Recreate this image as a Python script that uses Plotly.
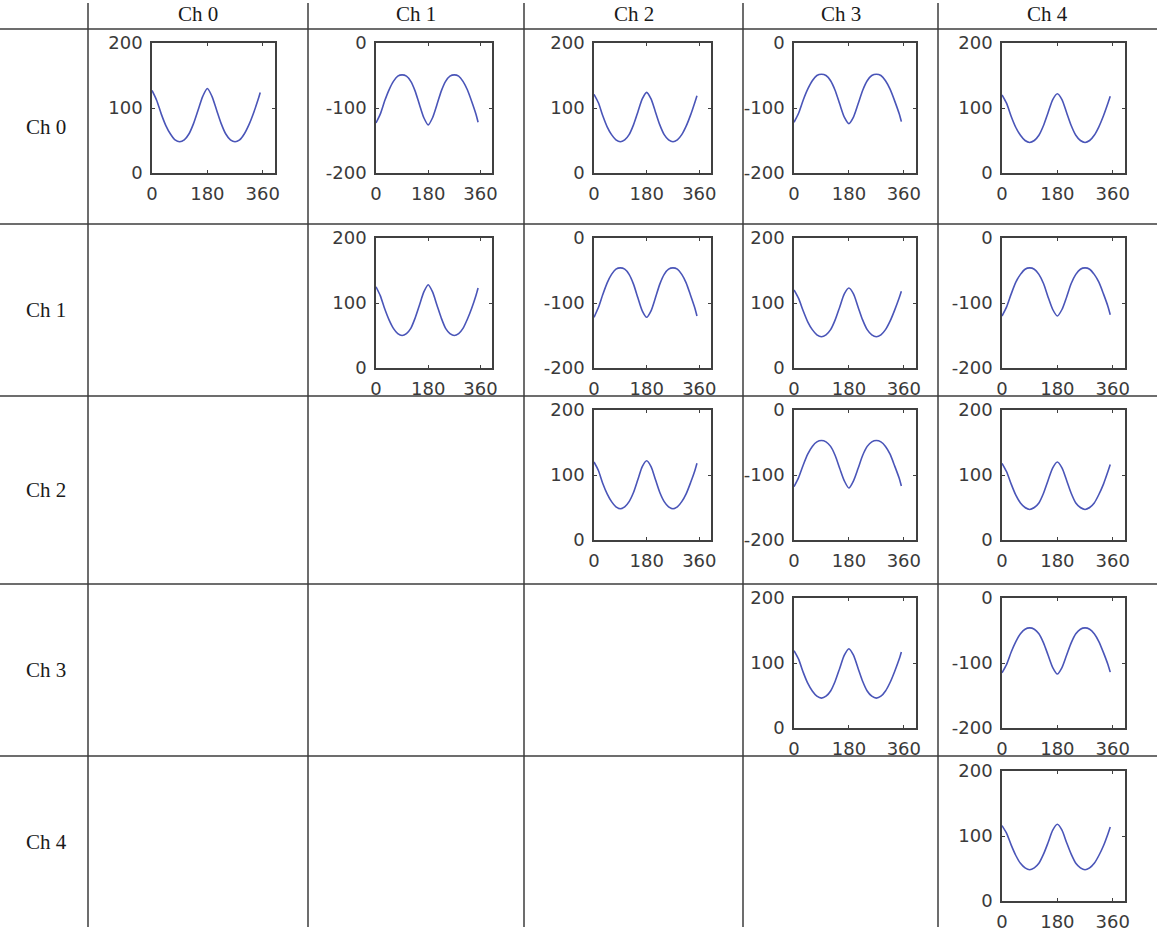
import plotly.graph_objects as go

# ---------------- data ----------------
channels = ["Ch 0", "Ch 1", "Ch 2", "Ch 3", "Ch 4"]
angles = [0, 15, 30, 45, 60, 75, 90, 105, 120, 135, 150, 165, 180,
          195, 210, 225, 240, 255, 270, 285, 300, 315, 330, 345, 352]
x_ticks = [0, 180, 360]
x_tick_labels = ["0", "180", "360"]
pos_ticks = [0, 100, 200]
pos_tick_labels = ["0", "100", "200"]
neg_ticks = [-200, -100, 0]
neg_tick_labels = ["-200", "-100", "0"]

c00 = [127, 112, 91, 73, 60, 51, 48, 51, 60, 76, 97, 118, 130, 118, 97, 76, 60, 51, 48, 51, 60, 74, 92, 113, 124]
c01 = [-123, -109, -89, -72, -59, -51, -49, -51, -59, -74, -95, -115, -126, -115, -95, -74, -59, -51, -49, -51, -59, -72, -90, -110, -122]
c02 = [121, 108, 88, 71, 59, 51, 48, 51, 59, 74, 94, 114, 124, 114, 94, 74, 59, 51, 48, 51, 59, 72, 89, 109, 119]
c03 = [-122, -108, -88, -71, -58, -50, -48, -50, -58, -73, -94, -114, -124, -114, -94, -73, -58, -50, -48, -50, -58, -71, -89, -109, -121]
c04 = [120, 107, 87, 70, 58, 50, 47, 50, 58, 73, 93, 113, 122, 113, 93, 73, 58, 50, 47, 50, 58, 71, 88, 108, 118]
c11 = [125, 111, 91, 74, 61, 53, 50, 53, 61, 77, 97, 117, 128, 117, 97, 77, 61, 53, 50, 53, 61, 75, 92, 112, 123]
c12 = [-122, -107, -87, -69, -56, -48, -46, -48, -56, -71, -92, -112, -122, -112, -92, -71, -56, -48, -46, -48, -56, -69, -88, -108, -120]
c13 = [120, 107, 88, 71, 59, 51, 48, 51, 59, 74, 94, 114, 123, 114, 94, 74, 59, 51, 48, 51, 59, 72, 89, 108, 118]
c14 = [-120, -106, -86, -68, -56, -48, -46, -48, -56, -70, -91, -110, -120, -110, -91, -70, -56, -48, -46, -48, -56, -68, -86, -106, -118]
c22 = [120, 107, 87, 71, 59, 51, 48, 51, 59, 73, 93, 113, 122, 113, 93, 73, 59, 51, 48, 51, 59, 71, 88, 107, 118]
c23 = [-118, -104, -85, -68, -56, -49, -47, -49, -56, -70, -90, -109, -120, -109, -90, -70, -56, -49, -47, -49, -56, -68, -86, -105, -117]
c24 = [118, 105, 86, 69, 57, 50, 47, 50, 57, 72, 92, 111, 120, 111, 92, 72, 57, 50, 47, 50, 57, 70, 86, 106, 116]
c33 = [119, 106, 86, 69, 57, 49, 46, 49, 57, 72, 92, 112, 122, 112, 92, 72, 57, 49, 46, 49, 57, 70, 87, 106, 117]
c34 = [-115, -102, -83, -67, -55, -48, -46, -48, -55, -69, -88, -107, -117, -107, -88, -69, -55, -48, -46, -48, -55, -67, -84, -103, -114]
c44 = [116, 104, 86, 70, 58, 51, 48, 51, 58, 72, 90, 109, 118, 109, 90, 72, 58, 51, 48, 51, 58, 70, 85, 104, 114]

cells = {
    (0, 0): c00, (0, 1): c01, (0, 2): c02, (0, 3): c03, (0, 4): c04,
    (1, 1): c11, (1, 2): c12, (1, 3): c13, (1, 4): c14,
    (2, 2): c22, (2, 3): c23, (2, 4): c24,
    (3, 3): c33, (3, 4): c34,
    (4, 4): c44,
}

# ---------------- layout geometry (pixels) ----------------
W, H = 1157, 933
col_lines = [88, 308, 524, 743, 938]
row_lines = [29, 224, 396, 584, 756]
col_left = [152, 376, 594, 794, 1002]
col_width = [123, 116, 117, 122, 123]
row_top = [43, 238, 410, 598, 771]
box_h = 130

def px(x):
    return x / W

def py(y):
    return 1 - y / H

fig = go.Figure()
layout = {}
axis_color = "#404040"
tick_font = dict(family="DejaVu Sans", size=18, color="#3a3a3a")

k = 0
for (r, c), vals in cells.items():
    k += 1
    xa = "x" if k == 1 else f"x{k}"
    ya = "y" if k == 1 else f"y{k}"
    fig.add_trace(go.Scatter(x=angles, y=vals, mode="lines",
                             line=dict(color="#4a55b8", width=1.6,
                                       shape="spline", smoothing=0.7),
                             xaxis=xa, yaxis=ya, showlegend=False,
                             hoverinfo="skip"))
    neg = vals[0] < 0
    common = dict(showgrid=False, zeroline=False, showline=True,
                  mirror="ticks", linecolor=axis_color, linewidth=1.5,
                  ticks="inside", ticklen=3, tickcolor=axis_color,
                  tickwidth=1, tickfont=tick_font, fixedrange=True,
                  automargin=False)
    layout["xaxis" if k == 1 else f"xaxis{k}"] = dict(
        domain=[px(col_left[c]), px(col_left[c] + col_width[c])],
        range=[0, 400], tickmode="array", tickvals=x_ticks,
        ticktext=x_tick_labels, anchor=ya, ticklabelstandoff=4, **common)
    layout["yaxis" if k == 1 else f"yaxis{k}"] = dict(
        domain=[py(row_top[r] + box_h), py(row_top[r])],
        range=[-200, 0] if neg else [0, 200], tickmode="array",
        tickvals=neg_ticks if neg else pos_ticks,
        ticktext=neg_tick_labels if neg else pos_tick_labels,
        anchor=xa, ticklabelstandoff=4, **common)

shapes = []
for xl in col_lines:
    shapes.append(dict(type="line", xref="paper", yref="paper",
                       x0=px(xl), x1=px(xl), y0=py(3), y1=py(927),
                       line=dict(color="#3c3c3c", width=1.5)))
for yl in row_lines:
    shapes.append(dict(type="line", xref="paper", yref="paper",
                       x0=0, x1=1, y0=py(yl), y1=py(yl),
                       line=dict(color="#3c3c3c", width=1.5)))

annotations = []
head_font = dict(family="Liberation Serif", size=21, color="#1a1a1a")
for i, name in enumerate(channels):
    right = col_lines[i + 1] if i + 1 < len(col_lines) else W
    annotations.append(dict(text=name, xref="paper", yref="paper",
                            x=px((col_lines[i] + right) / 2), y=py(14),
                            showarrow=False, font=head_font,
                            xanchor="center", yanchor="middle"))
    bottom = row_lines[i + 1] if i + 1 < len(row_lines) else 927
    annotations.append(dict(text=name, xref="paper", yref="paper",
                            x=px(46), y=py((row_lines[i] + bottom) / 2),
                            showarrow=False, font=head_font,
                            xanchor="center", yanchor="middle"))

fig.update_layout(template="none", width=W, height=H,
                  margin=dict(l=0, r=0, t=0, b=0, pad=0, autoexpand=False),
                  paper_bgcolor="white", plot_bgcolor="white",
                  showlegend=False,
                  shapes=shapes, annotations=annotations, **layout)

fig.write_html("out.html", post_script="document.body.style.margin='0';",
               config={"displayModeBar": False})
